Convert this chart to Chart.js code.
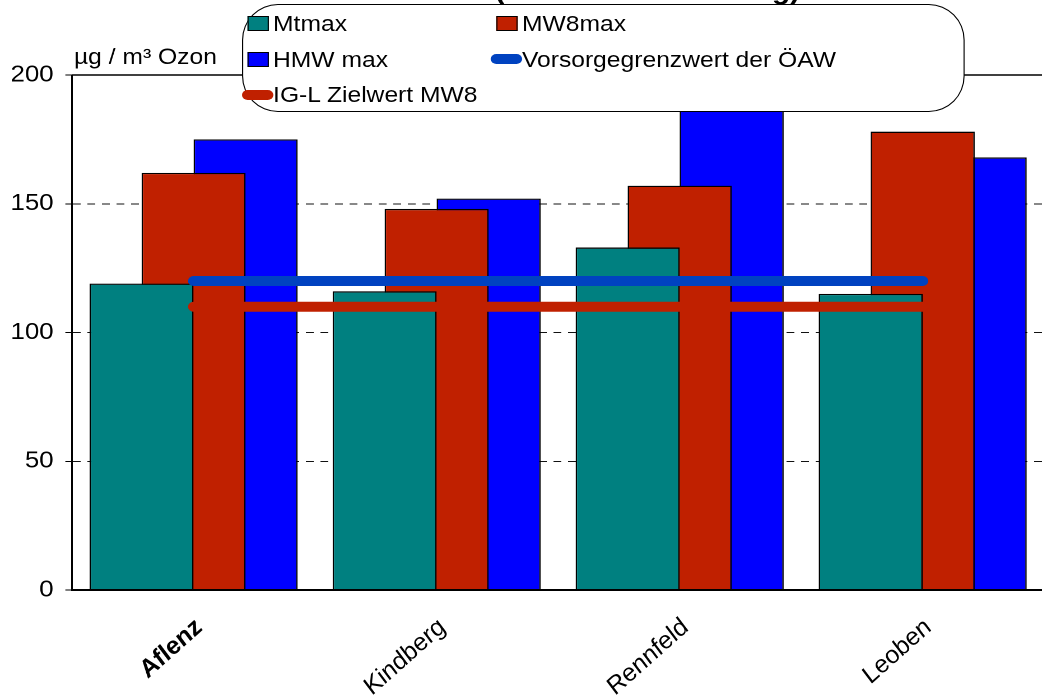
<!DOCTYPE html>
<html>
<head>
<meta charset="utf-8">
<script src="https://cdn.jsdelivr.net/npm/chart.js@4.4.1/dist/chart.umd.min.js"></script>
<style>
  html, body { margin: 0; padding: 0; background: #fff; overflow: hidden; width: 1042px; height: 698px; }
  /* the drawing is laid out on a 935px-wide frame and widened to the page */
  #frame { position: absolute; left: 0; top: 0; width: 935px; height: 698px; transform: scaleX(1.1204); transform-origin: 0 0; }
  #chart { position: absolute; left: 0; top: 0; }
  #legendBox { position: absolute; left: 216px; top: 4px; width: 643px; height: 106px;
               border: 1.5px solid #000; border-radius: 32px / 36px; background: #fff; }
  .lg-text { position: absolute; white-space: nowrap; line-height: 22px; font-size: 22px;
             font-family: "Liberation Sans", Arial, sans-serif; color: #000; }
  .lg-swatch { position: absolute; box-sizing: border-box; }
</style>
</head>
<body>
<div id="frame">
  <canvas id="chart" width="935" height="698"></canvas>
  <div id="legendBox"></div>
</div>
<script>
const FONT = '"Liberation Sans", Arial, sans-serif';

// Stations
const categories = ['Aflenz', 'Kindberg', 'Rennfeld', 'Leoben'];

// Ozone maxima per station, µg/m³
const mtmax  = [119, 116, 133, 115];   // highest daily mean
const mw8max = [162, 148, 157, 178];   // highest 8-hour mean
const hmwMax = [175, 152, 193, 168];   // highest half-hour mean

// Reference values drawn as horizontal lines
const oawLimit  = [120, 120, 120, 120]; // Vorsorgegrenzwert der ÖAW
const iglTarget = [110, 110, 110, 110]; // IG-L Zielwert MW8

// Value axis
const yMin = 0, yMax = 200, yStep = 50;

const chartTitle = 'Ozon (Sommerauswertung)';
const unitCaption = 'µg / m³ Ozon';

const TEAL = '#008080', RED = '#C02000', BLUE = '#0000FF';
const LINE_BLUE = '#0042C0', LINE_RED = '#C02000';

const decorations = {
  id: 'decorations',
  beforeDatasetsDraw(chart) {
    // solid frame line along the top of the value range
    const { ctx, chartArea, scales: { y } } = chart;
    const yTop = y.getPixelForValue(yMax);
    ctx.save();
    ctx.strokeStyle = '#000';
    ctx.lineWidth = 1.5;
    ctx.beginPath();
    ctx.moveTo(chartArea.left, yTop);
    ctx.lineTo(chartArea.right + 5, yTop);
    ctx.stroke();
    ctx.restore();
  },
  afterDraw(chart) {
    const { ctx } = chart;
    ctx.save();
    ctx.fillStyle = '#000';
    // chart title, mostly above the top edge
    ctx.font = 'bold 26.5px ' + FONT;
    ctx.textAlign = 'right';
    ctx.textBaseline = 'alphabetic';
    ctx.fillText(chartTitle, 714, -1);
    // unit caption above the value axis
    ctx.font = '22px ' + FONT;
    ctx.textAlign = 'left';
    ctx.fillText(unitCaption, 66, 64);
    ctx.restore();
  }
};

const chart = new Chart(document.getElementById('chart'), {
  data: {
    labels: categories,
    datasets: [
      { type: 'bar', label: 'Mtmax', data: mtmax, backgroundColor: TEAL,
        borderColor: '#000', borderWidth: 1.3, order: 1 },
      { type: 'bar', label: 'MW8max', data: mw8max, backgroundColor: RED,
        borderColor: '#000', borderWidth: 1.3, order: 2 },
      { type: 'bar', label: 'HMW max', data: hmwMax, backgroundColor: BLUE,
        borderColor: '#000', borderWidth: 1.3, order: 3 },
      { type: 'line', label: 'Vorsorgegrenzwert der ÖAW', data: oawLimit,
        borderColor: LINE_BLUE, borderWidth: 10, borderCapStyle: 'round',
        pointRadius: 0, fill: false, order: 0 },
      { type: 'line', label: 'IG-L Zielwert MW8', data: iglTarget,
        borderColor: LINE_RED, borderWidth: 10, borderCapStyle: 'round',
        pointRadius: 0, fill: false, order: 0 }
    ]
  },
  options: {
    responsive: false,
    animation: false,
    devicePixelRatio: 2,
    layout: { padding: { top: 75, left: 0, right: 3, bottom: 0 } },
    plugins: { legend: { display: false }, tooltip: { enabled: false }, title: { display: false } },
    datasets: { bar: { categoryPercentage: 0.642, barPercentage: 2.0 } },
    scales: {
      x: {
        grid: { display: false, drawTicks: false },
        border: { display: true, color: '#000', width: 2, z: 1 },
        ticks: {
          color: '#000', minRotation: 45, maxRotation: 45, padding: 24, labelOffset: 5, autoSkip: false,
          font: (ctx) => ({ family: FONT, size: 23.5, style: 'italic',
                            weight: ctx.index === 0 ? 'bold' : 'normal' })
        },
        afterFit(scale) { scale.height = 108; }
      },
      y: {
        min: yMin, max: yMax,
        ticks: { stepSize: yStep, color: '#000', padding: 10.5, font: { family: FONT, size: 23 } },
        grid: {
          color: (ctx) => (ctx.tick && (ctx.tick.value === yMin || ctx.tick.value === yMax))
            ? 'rgba(0,0,0,0)' : '#111',
          lineWidth: 1, tickLength: 6, tickColor: '#000', tickBorderDash: []
        },
        border: { display: true, color: '#000', width: 1.5, dash: [7, 6] },
        afterFit(scale) { scale.width = 64.3; }
      }
    }
  },
  plugins: [decorations]
});

// Legend box built from the datasets, two columns filled row by row
(function buildLegend() {
  const frame = document.getElementById('frame');
  const textX = [243.7, 465.8];
  const rowY = [23.8, 59.3, 94.8];
  chart.data.datasets.forEach((ds, i) => {
    const col = i % 2, row = Math.floor(i / 2);
    const x = textX[col], y = rowY[row];
    const sw = document.createElement('div');
    sw.className = 'lg-swatch';
    if (ds.type === 'line') {
      Object.assign(sw.style, { left: (x - 28) + 'px', top: (y - 5) + 'px', width: '28px',
        height: '10px', borderRadius: '5px', background: ds.borderColor });
    } else {
      Object.assign(sw.style, { left: (x - 23) + 'px', top: (y - 7.5) + 'px', width: '19px',
        height: '15px', border: '1.5px solid #000', background: ds.backgroundColor });
    }
    frame.appendChild(sw);
    const t = document.createElement('div');
    t.className = 'lg-text';
    t.textContent = ds.label;
    t.style.left = x + 'px';
    t.style.top = (y - 10.75) + 'px';
    frame.appendChild(t);
  });
})();
</script>
</body>
</html>
